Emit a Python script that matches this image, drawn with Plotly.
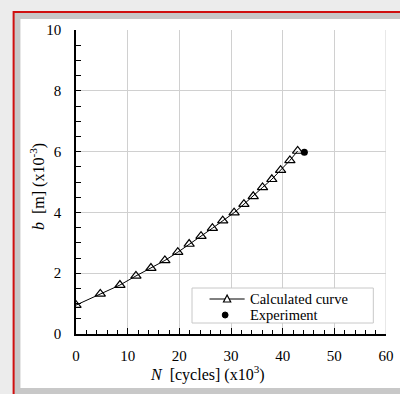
import plotly.graph_objects as go

# Calculated curve (N in x10^3 cycles, b in x10^-3 m)
calc_N = [0.0, 4.7, 8.5, 11.6, 14.5, 17.2, 19.7, 21.9, 24.2, 26.4, 28.4, 30.6,
          32.5, 34.3, 36.1, 37.9, 39.6, 41.4, 42.9]
calc_b = [0.95, 1.32, 1.61, 1.91, 2.17, 2.42, 2.69, 2.96, 3.22, 3.48, 3.73, 3.99,
          4.27, 4.53, 4.82, 5.09, 5.39, 5.71, 6.02]
# Experiment
exp_N = [44.2]
exp_b = [5.98]

x_ticks = [0, 10, 20, 30, 40, 50, 60]
y_ticks = [0, 2, 4, 6, 8, 10]
legend_names = ["Calculated curve", "Experiment"]

W, H = 400, 394
L, R, T, B = 76, 6, 30, 60
pw, ph = W - L - R, H - T - B

def px(x):
    return (x - L) / pw

def py(y):
    return (H - B - y) / ph

font = "Liberation Serif"

fig = go.Figure()
fig.add_trace(go.Scatter(
    x=calc_N, y=calc_b, mode="lines+markers", name=legend_names[0],
    line=dict(color="black", width=1),
    marker=dict(symbol="triangle-up-open", size=9, color="black",
                line=dict(color="black", width=1.2)),
))
fig.add_trace(go.Scatter(
    x=exp_N, y=exp_b, mode="markers", name=legend_names[1],
    marker=dict(symbol="circle", size=7, color="black"),
))

row1, row2 = 299, 315

shapes = [
    # red frame
    dict(type="rect", xref="paper", yref="paper",
         x0=px(12), x1=px(420), y0=py(415), y1=py(12),
         line=dict(color="#d01010", width=2), fillcolor="#c8c8c8", layer="below"),
    # inner white panel
    dict(type="rect", xref="paper", yref="paper",
         x0=px(19), x1=px(420), y0=py(388), y1=py(19),
         line=dict(width=0), fillcolor="white", layer="below"),
    # gridline at right edge (x = 60)
    dict(type="line", xref="x", yref="paper", x0=60, x1=60, y0=0, y1=1,
         line=dict(color="#d0d0d0", width=1), layer="below"),
    # legend box
    dict(type="rect", xref="paper", yref="paper",
         x0=px(195), x1=px(381), y0=py(323), y1=py(288),
         line=dict(color="#c8c8c8", width=1), fillcolor="white", layer="above"),
    # legend sample: line
    dict(type="line", xref="paper", yref="paper",
         x0=px(213), x1=px(249), y0=py(row1), y1=py(row1),
         line=dict(color="black", width=1), layer="above"),
    # legend sample: open triangle
    dict(type="path", xref="paper", yref="paper",
         path="M {:.4f} {:.4f} L {:.4f} {:.4f} L {:.4f} {:.4f} Z".format(
             px(227.3), py(row1 + 3), px(234.7), py(row1 + 3), px(231), py(row1 - 4)),
         line=dict(color="black", width=1.2), fillcolor="white", layer="above"),
    # legend sample: filled circle
    dict(type="circle", xref="paper", yref="paper",
         x0=px(226), x1=px(232), y0=py(row2 + 3), y1=py(row2 - 3),
         line=dict(color="black", width=1), fillcolor="black", layer="above"),
]

annotations = [
    dict(text=legend_names[0], xref="paper", yref="paper", x=px(252), y=py(row1),
         xanchor="left", yanchor="middle", showarrow=False,
         font=dict(family=font, size=14.5, color="black")),
    dict(text=legend_names[1], xref="paper", yref="paper", x=px(252), y=py(row2),
         xanchor="left", yanchor="middle", showarrow=False,
         font=dict(family=font, size=14.5, color="black")),
    dict(text="<i>N</i>&nbsp; [cycles] (x10<sup>3</sup>)", xref="paper", yref="paper",
         x=px(211), y=py(373), xanchor="center", yanchor="middle", showarrow=False,
         font=dict(family=font, size=16, color="black")),
    dict(text="<i>b</i>&nbsp; [m] (x10<sup>-3</sup>)", xref="paper", yref="paper",
         x=px(37), y=py(186), xanchor="center", yanchor="middle", showarrow=False,
         textangle=-90, font=dict(family=font, size=16, color="black")),
]

fig.update_layout(
    width=W, height=H,
    margin=dict(l=L, r=R, t=T, b=B),
    paper_bgcolor="#ececec",
    plot_bgcolor="white",
    shapes=shapes,
    annotations=annotations,
    font=dict(family=font, size=15, color="black"),
    showlegend=False,
    xaxis=dict(
        range=[0, 60], tickvals=x_ticks, ticktext=[str(v) for v in x_ticks],
        showgrid=True, gridcolor="#d0d0d0", gridwidth=1,
        showline=True, linecolor="black", linewidth=1.5,
        ticks="inside", ticklen=6, tickcolor="black", tickwidth=1.2,
        minor=dict(dtick=2, ticks="inside", ticklen=4, tickcolor="black",
                   tickwidth=1, showgrid=False),
        ticklabelstandoff=7, ticklabeloverflow="allow",
        zeroline=False,
        tickfont=dict(family=font, size=15),
    ),
    yaxis=dict(
        range=[0, 10], tickvals=y_ticks, ticktext=[str(v) for v in y_ticks],
        showgrid=True, gridcolor="#d0d0d0", gridwidth=1,
        showline=True, linecolor="black", linewidth=1.5,
        ticks="inside", ticklen=5, tickcolor="black", tickwidth=1.2,
        minor=dict(dtick=0.5, ticks="inside", ticklen=5, tickcolor="black",
                   tickwidth=1, showgrid=False),
        ticklabelstandoff=10, ticklabeloverflow="allow",
        zeroline=False,
        tickfont=dict(family=font, size=15),
    ),
)

fig.write_html("out.html")
